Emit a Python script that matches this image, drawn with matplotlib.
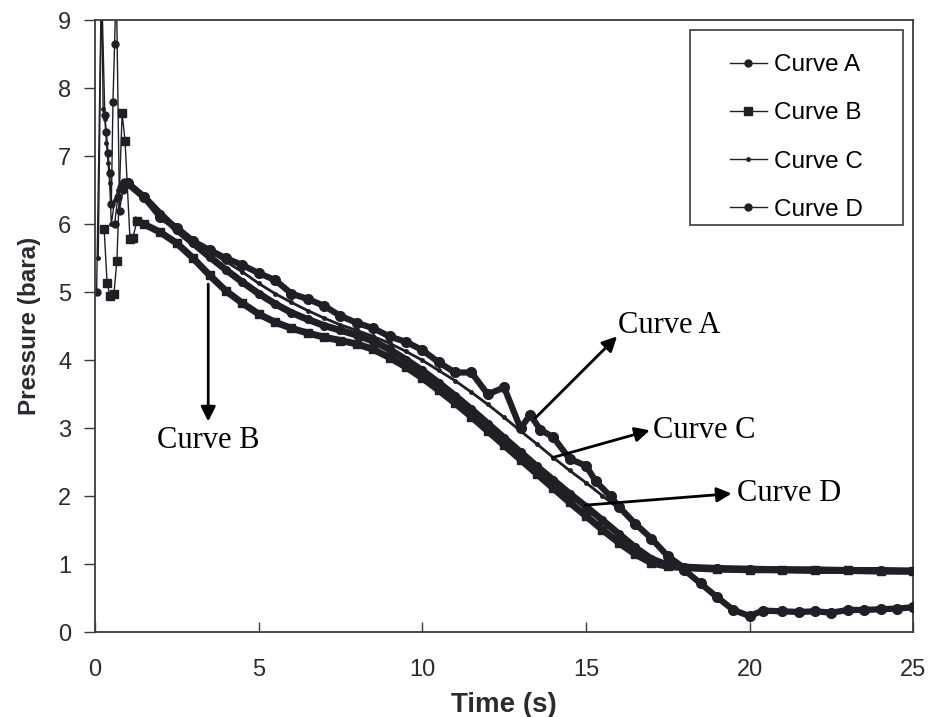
import matplotlib
matplotlib.use('Agg')
import matplotlib.pyplot as plt
from matplotlib.patches import Rectangle

# time (s) and pressure (bara) for each run
tA = [0.05, 0.2, 0.3, 0.35, 0.4, 0.45, 0.5, 0.55, 0.6, 0.65, 0.75, 0.85,
      1.0, 1.5, 2.0, 2.5, 3.0, 3.5, 4.0, 4.5, 5.0, 5.5, 6.0, 6.5, 7.0, 7.5,
      8.0, 8.5, 9.0, 9.5, 10.0, 10.5, 11.0, 11.5, 12.0, 12.5, 13.0, 13.3,
      13.6, 14.0, 14.5, 15.0, 15.3, 15.75, 16.0, 16.5, 17.0, 17.5, 18.0,
      18.5, 19.0, 19.5, 20.0, 20.4, 21.0, 21.5, 22.0, 22.5, 23.0, 23.5,
      24.0, 24.5, 25.0]
pA = [5.0, 9.6, 7.6, 7.35, 7.05, 6.75, 6.3, 7.8, 8.65, 9.6, 6.2, 6.5,
      6.6, 6.4, 6.1, 5.95, 5.75, 5.62, 5.5, 5.4, 5.28, 5.18, 4.98, 4.9,
      4.8, 4.65, 4.55, 4.47, 4.35, 4.27, 4.15, 3.97, 3.82, 3.82, 3.5, 3.6,
      3.0, 3.2, 2.98, 2.87, 2.55, 2.45, 2.22, 2.0, 1.85, 1.6, 1.38, 1.12,
      0.92, 0.72, 0.52, 0.33, 0.24, 0.32, 0.31, 0.3, 0.31, 0.29, 0.33,
      0.33, 0.34, 0.35, 0.37]

tB = [0.28, 0.37, 0.46, 0.58, 0.67, 0.83, 0.92, 1.07, 1.16, 1.28,
      1.5, 2.0, 2.5, 3.0, 3.5, 4.0, 4.5, 5.0, 5.5, 6.0, 6.5, 7.0, 7.5,
      8.0, 8.5, 9.0, 9.5, 10.0, 10.5, 11.0, 11.5, 12.0, 12.5, 13.0, 13.5,
      14.0, 14.5, 15.0, 15.5, 16.0, 16.5, 17.0, 17.5, 18.0, 19.0, 20.0,
      21.0, 22.0, 23.0, 24.0, 25.0]
pB = [5.93, 5.14, 4.94, 4.98, 5.46, 7.63, 7.22, 5.78, 5.8, 6.05,
      6.0, 5.88, 5.72, 5.5, 5.25, 5.02, 4.84, 4.68, 4.56, 4.47, 4.4, 4.34,
      4.29, 4.24, 4.16, 4.04, 3.9, 3.74, 3.56, 3.37, 3.17, 2.96, 2.75,
      2.54, 2.33, 2.12, 1.91, 1.71, 1.51, 1.32, 1.15, 1.02, 0.97, 0.95,
      0.93, 0.92, 0.92, 0.91, 0.91, 0.9, 0.9]

tC = [0.1, 0.2, 0.25, 0.3, 0.35, 0.4, 0.45, 0.5, 0.6, 0.7, 0.8, 0.9,
      1.0, 1.5, 2.0, 2.5, 3.0, 3.5, 4.0, 4.5, 5.0, 5.5, 6.0, 6.5, 7.0, 7.5,
      8.0, 8.5, 9.0, 9.5, 10.0, 10.5, 11.0, 11.5, 12.0, 12.5, 13.0, 13.5,
      14.0, 14.5, 15.0, 15.5, 16.0, 16.5, 17.0, 17.5, 18.0, 18.5, 19.0,
      20.0, 21.0, 22.0, 23.0, 24.0, 25.0]
pC = [5.5, 9.6, 7.7, 7.55, 7.2, 6.9, 6.6, 6.0, 6.35, 6.5, 6.6, 6.62,
      6.6, 6.4, 6.15, 5.95, 5.78, 5.6, 5.45, 5.3, 5.13, 4.98, 4.85, 4.73,
      4.62, 4.52, 4.44, 4.35, 4.25, 4.13, 4.0, 3.85, 3.7, 3.53, 3.35,
      3.16, 2.96, 2.77, 2.57, 2.38, 2.2, 2.01, 1.82, 1.6, 1.38, 1.15, 0.98,
      0.95, 0.94, 0.93, 0.92, 0.92, 0.91, 0.91, 0.9]

tD = [0.6, 0.7, 0.8, 0.9, 1.0, 1.5, 2.0, 2.5, 3.0, 3.5, 4.0, 4.5, 5.0,
      5.5, 6.0, 6.5, 7.0, 7.5, 8.0, 8.5, 9.0, 9.5, 10.0, 10.5, 11.0, 11.5,
      12.0, 12.5, 13.0, 13.5, 14.0, 14.5, 15.0, 15.5, 16.0, 16.5, 17.0,
      17.5, 18.0, 19.0, 20.0, 21.0, 22.0, 23.0, 24.0, 25.0]
pD = [6.0, 6.4, 6.55, 6.62, 6.6, 6.4, 6.15, 5.92, 5.72, 5.52, 5.33, 5.15,
      4.98, 4.83, 4.7, 4.6, 4.51, 4.44, 4.37, 4.28, 4.16, 4.01, 3.85, 3.67,
      3.48, 3.28, 3.07, 2.86, 2.65, 2.44, 2.24, 2.04, 1.85, 1.65, 1.45,
      1.25, 1.08, 0.99, 0.96, 0.94, 0.93, 0.92, 0.92, 0.91, 0.91, 0.9]

ink = '#1f1f26'
grey = '#3a3a40'

fig = plt.figure(figsize=(9.31, 7.17), dpi=100)
ax = fig.add_axes([0.102, 0.118, 0.879, 0.854])

# thin traces with markers (also used for the legend)
lA, = ax.plot(tA, pA, color=ink, lw=1, marker='o', ms=5, label='Curve A')
lB, = ax.plot(tB, pB, color=ink, lw=1, marker='s', ms=6, label='Curve B')
lC, = ax.plot(tC, pC, color=ink, lw=1, marker='o', ms=2.5, label='Curve C')
lD, = ax.plot(tD, pD, color=ink, lw=1, marker='o', ms=5, label='Curve D')

# heavy bodies where the samples are packed together
ax.plot(tA[12:], pA[12:], color=ink, lw=4.5, marker='o', ms=7, zorder=3)
ax.plot(tB[9:], pB[9:], color=ink, lw=5, marker='s', ms=4.5, zorder=3)
ax.plot(tC[12:], pC[12:], color=ink, lw=2, zorder=3)
ax.plot(tD[4:], pD[4:], color=ink, lw=5, marker='o', ms=5.5, zorder=3)

ax.set_xlim(0, 25)
ax.set_ylim(0, 9)
ax.set_xticks(range(0, 26, 5))
ax.set_yticks(range(0, 10))

for s in ax.spines.values():
    s.set_color(grey)
    s.set_linewidth(1.3)

ax.tick_params(axis='y', direction='out', length=8, width=1, pad=9,
               labelsize=17, colors=grey, labelcolor='#2a2a30')
ax.tick_params(axis='x', direction='in', length=7, width=1, pad=19,
               labelsize=17, colors=grey, labelcolor='#2a2a30')
for lab in ax.get_xticklabels() + ax.get_yticklabels():
    lab.set_fontfamily(['Liberation Sans', 'DejaVu Sans'])

ax.set_xlabel('Time (s)', fontsize=20, fontweight='bold',
              family=['Liberation Sans Narrow', 'Liberation Sans'],
              color='#2a2a30', labelpad=8)
ax.set_ylabel('Pressure (bara)', fontsize=17.5, fontweight='bold',
              family=['Liberation Sans Narrow', 'Liberation Sans'],
              color='#2a2a30', labelpad=12)

# legend box
ax.add_patch(Rectangle((0.727, 0.666), 0.26, 0.318, transform=ax.transAxes,
                       fill=False, edgecolor=grey, lw=1.2, zorder=5))
leg = ax.legend(handles=[lA, lB, lC, lD], loc='upper right',
                bbox_to_anchor=(0.965, 0.98), frameon=False,
                handlelength=1.5, labelspacing=1.08, handletextpad=0.3,
                prop={'family': 'Liberation Sans', 'size': 17.5})

# callouts
arrow = dict(arrowstyle='-|>', color='black', lw=2, mutation_scale=22,
             shrinkA=0, shrinkB=0)
serif = ['Liberation Serif', 'DejaVu Serif']
ax.annotate('', xy=(3.46, 3.1), xytext=(3.46, 5.12), arrowprops=arrow)
ax.text(3.46, 2.82, 'Curve B', ha='center', va='center', fontsize=22,
        family=serif)
ax.annotate('', xy=(15.95, 4.35), xytext=(13.45, 3.15), arrowprops=arrow)
ax.text(15.97, 4.51, 'Curve A', ha='left', va='center', fontsize=22,
        family=serif)
ax.annotate('', xy=(16.95, 2.97), xytext=(13.98, 2.57), arrowprops=arrow)
ax.text(17.05, 2.97, 'Curve C', ha='left', va='center', fontsize=22,
        family=serif)
ax.annotate('', xy=(19.45, 2.04), xytext=(14.98, 1.87), arrowprops=arrow)
ax.text(19.6, 2.04, 'Curve D', ha='left', va='center', fontsize=22,
        family=serif)

fig.savefig('out.png', dpi=100)
